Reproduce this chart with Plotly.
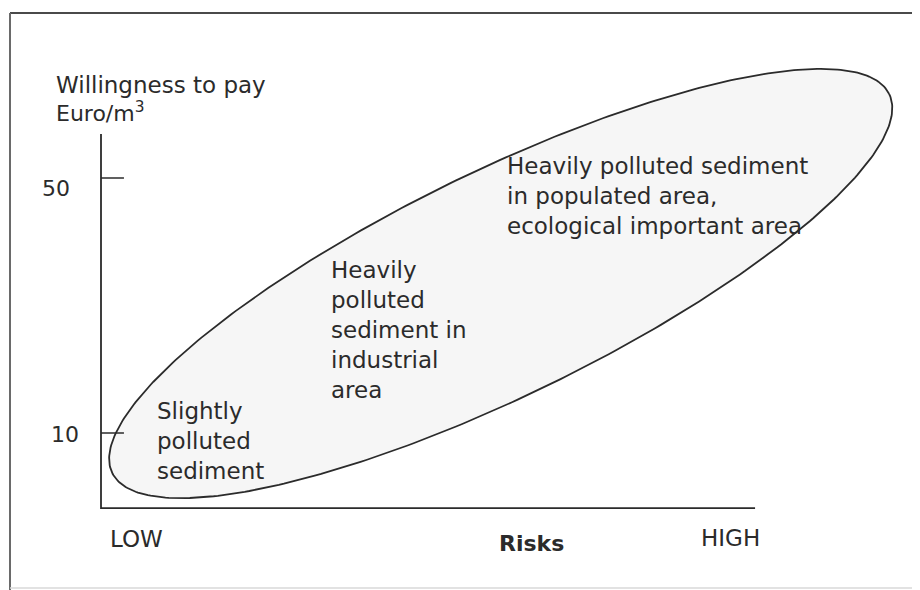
import numpy as np
import plotly.graph_objects as go

# ---------------- data ----------------
y_tick_values = [10, 50]
y_tick_labels = ["10", "50"]
y_axis_title = ["Willingness to pay", "Euro/m<sup>3</sup>"]
x_axis_title = "Risks"
x_tick_labels = ["LOW", "HIGH"]
x_axis_extent = [0, 102.6]          # risk axis from LOW to HIGH (units)
y_axis_extent = [-1.77, 56.9]       # willingness-to-pay axis extent (Euro/m3)

region_labels = [
    "Slightly<br>polluted<br>sediment",
    "Heavily<br>polluted<br>sediment in<br>industrial<br>area",
    "Heavily polluted sediment<br>in populated area,<br>ecological important area",
]
region_risk = [8.5, 35.8, 63.4]
region_wtp = [8.75, 26.2, 47.1]

# conceptual region (ellipse) in chart units
ellipse_center_risk = 62.7
ellipse_center_wtp = 33.45
ellipse_semi_major = 67.8
ellipse_semi_minor = 17.6
ellipse_tilt_deg = 26.0

# ---------------- style ----------------
INK = "#2b2b2b"
FONT = "DejaVu Sans"
FS = 23
TICK_LEN = 3.6
# page is offset by the 8px default body margin, figure is 912x582
W, H = 912, 582
X_RANGE = [-14.588, 128.471]
Y_RANGE = [-14.627, 76.667]

fig = go.Figure()

# ellipse
t = np.linspace(0, 2 * np.pi, 400)
th = np.deg2rad(ellipse_tilt_deg)
u = ellipse_semi_major * np.cos(t)
v = ellipse_semi_minor * np.sin(t)
ex = ellipse_center_risk + u * np.cos(th) - v * np.sin(th)
ey = ellipse_center_wtp + u * np.sin(th) + v * np.cos(th)
fig.add_trace(go.Scatter(x=ex, y=ey, mode="lines", fill="toself",
                         fillcolor="rgba(0,0,0,0.035)",
                         line=dict(color=INK, width=1.8),
                         hoverinfo="skip", showlegend=False))

# axes lines
fig.add_trace(go.Scatter(
    x=[x_axis_extent[0], x_axis_extent[0], x_axis_extent[1]],
    y=[y_axis_extent[1], y_axis_extent[0], y_axis_extent[0]],
    mode="lines", line=dict(color=INK, width=1.8),
    hoverinfo="skip", showlegend=False))

# y ticks
for val in y_tick_values:
    fig.add_trace(go.Scatter(x=[x_axis_extent[0], x_axis_extent[0] + TICK_LEN],
                             y=[val, val], mode="lines",
                             line=dict(color=INK, width=1.5),
                             hoverinfo="skip", showlegend=False))

annotations = []
tick_label_shift = {"10": (-36, -1), "50": (-45, -10)}
for val, lab in zip(y_tick_values, y_tick_labels):
    dx, dy = tick_label_shift[lab]
    annotations.append(dict(x=x_axis_extent[0], y=val, text=lab, showarrow=False,
                            xanchor="center", yanchor="middle", xshift=dx, yshift=dy,
                            font=dict(family=FONT, size=22, color=INK)))

# y axis title (two lines)
annotations.append(dict(x=-7.4, y=64.6, text=y_axis_title[0], showarrow=False,
                        xanchor="left", yanchor="middle",
                        font=dict(family=FONT, size=FS, color=INK)))
annotations.append(dict(x=-7.4, y=60.3, text=y_axis_title[1], showarrow=False,
                        xanchor="left", yanchor="middle",
                        font=dict(family=FONT, size=FS - 1, color=INK)))

# x axis labels
annotations.append(dict(x=x_axis_extent[0], y=y_axis_extent[0], text=x_tick_labels[0],
                        showarrow=False, xanchor="left", yanchor="middle",
                        xshift=7, yshift=-31,
                        font=dict(family=FONT, size=FS, color=INK)))
annotations.append(dict(x=x_axis_extent[1], y=y_axis_extent[0], text=x_tick_labels[1],
                        showarrow=False, xanchor="right", yanchor="middle",
                        xshift=7, yshift=-30,
                        font=dict(family=FONT, size=FS, color=INK)))
annotations.append(dict(x=(x_axis_extent[0] + x_axis_extent[1]) / 2, y=y_axis_extent[0],
                        text="<b>" + x_axis_title + "</b>", showarrow=False,
                        xanchor="center", yanchor="middle", xshift=103, yshift=-35,
                        font=dict(family=FONT, size=FS - 1, color=INK)))

# region labels
for lab, rx, ry in zip(region_labels, region_risk, region_wtp):
    annotations.append(dict(x=rx, y=ry, text=lab, showarrow=False, align="left",
                            xanchor="left", yanchor="middle",
                            font=dict(family=FONT, size=FS, color=INK)))

# outer scan frame (page px -> figure px: minus 8)
fx0 = 2 / W
fy_top = 1 - 5 / H
shapes = [
    dict(type="line", xref="paper", yref="paper", x0=fx0, x1=1, y0=fy_top, y1=fy_top,
         line=dict(color="#4a4a4a", width=2)),
    dict(type="line", xref="paper", yref="paper", x0=fx0, x1=fx0, y0=0, y1=fy_top,
         line=dict(color="#6a6a6a", width=2)),
    dict(type="line", xref="paper", yref="paper", x0=fx0, x1=1, y0=2 / H, y1=2 / H,
         line=dict(color="#d8d8d8", width=1.5)),
]

fig.update_layout(
    width=W, height=H,
    margin=dict(l=0, r=0, t=0, b=0),
    paper_bgcolor="white", plot_bgcolor="white",
    xaxis=dict(range=X_RANGE, visible=False, fixedrange=True),
    yaxis=dict(range=Y_RANGE, visible=False, fixedrange=True),
    annotations=annotations, shapes=shapes,
    showlegend=False,
)

fig.write_html("out.html")
